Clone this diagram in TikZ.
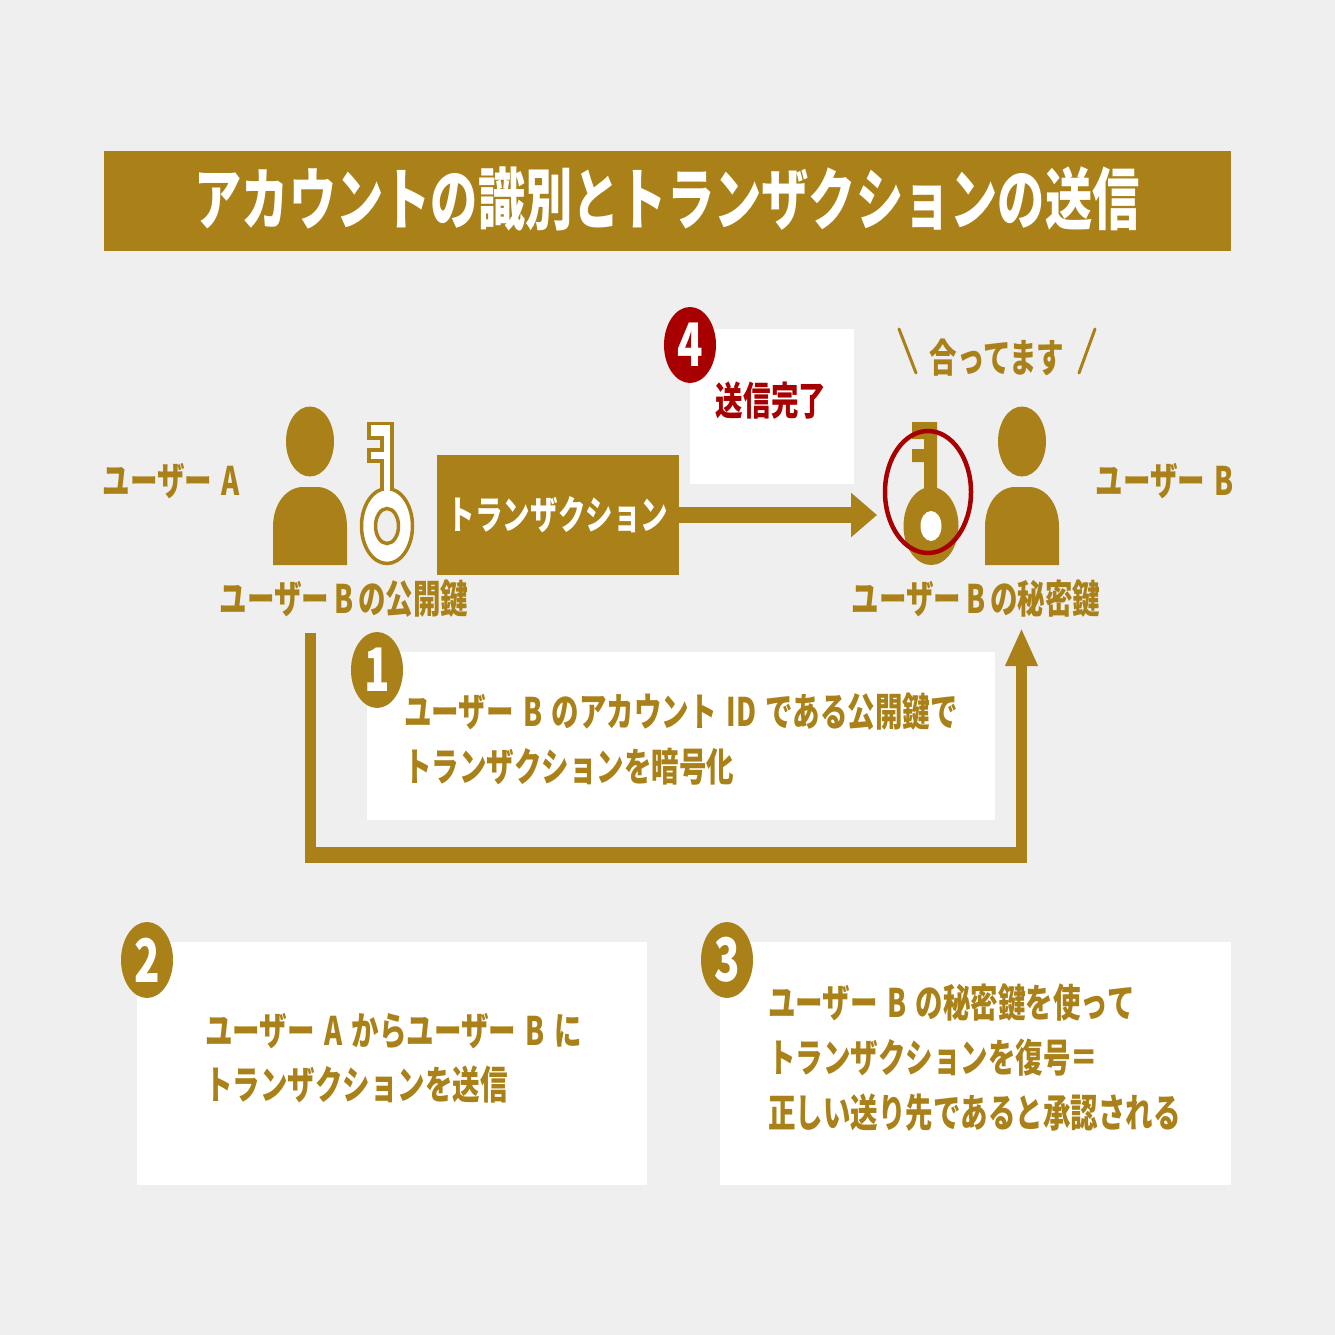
\documentclass[tikz,border=0pt]{standalone}
\usepackage{fontspec}
\setmainfont{Noto Sans CJK JP}[FakeStretch=0.7]
\usetikzlibrary{arrows.meta,shapes.geometric}
\definecolor{gold}{HTML}{A98118}
\definecolor{bgcol}{HTML}{EFEFEF}
\definecolor{redcol}{HTML}{A80000}
\newcommand{\gap}{\hspace{5pt}}
\newcommand{\wgap}{\hspace{9.5pt}}
\tikzset{
 txt/.style={text=gold,inner sep=0pt,font=\fontsize{39.3}{39.3}\selectfont\bfseries},
 line/.style={txt,anchor=west},
 box/.style={fill=white,draw=none},
 num/.style={ellipse,fill=gold,minimum width=52pt,minimum height=76pt,inner sep=0pt,text=white,font=\fontsize{60}{60}\selectfont\bfseries},
 loopline/.style={draw=gold},
}
\begin{document}
\begin{tikzpicture}[x=1pt,y=-1pt]
 \fill[bgcol](0,0) rectangle (1335,1335);
 \useasboundingbox (0,0) rectangle (1335,1335);
 % title
 \fill[gold](104,151) rectangle (1231,251);
 \node (title) at (667,199) [inner sep=0pt,text=white,font=\fontsize{67.5}{67.5}\selectfont\bfseries] {アカウントの識別とトランザクションの送信};
 % white boxes
 \fill[box](690,329) rectangle (854,484);
 \fill[box](367,652) rectangle (995,820);
 \fill[box](137,942) rectangle (647,1185);
 \fill[box](720,942) rectangle (1231,1185);
 % people
 \foreach \x in {310,1022}{
  \fill[gold](\x,441.5) ellipse (24 and 35);
  \fill[gold](\x-37,565)--(\x-37,527).. controls (\x-37,503) and (\x-23,487) .. (\x-7,487)--(\x+7,487).. controls (\x+23,487) and (\x+37,503) .. (\x+37,527)--(\x+37,565)--cycle;
 }
 % key A
 \draw[gold,fill=white,line width=3.5pt](369,423.5)--(392,423.5)--(392,490)--(382,490)--(382,461)--(369,461)--(369,450)--(382,450)--(382,438)--(369,438)--cycle;
 \draw[gold,fill=white,line width=3.5pt](387,526) ellipse (25.5 and 37.5);
 \fill[white](383.8,485) rectangle (390.2,495);
 \draw[gold,fill=bgcol,line width=3.5pt](387,526) ellipse (11.5 and 17.5);
 % key B
 \fill[gold](912,422)--(937,422)--(937,495)--(924,495)--(924,462)--(912,462)--(912,449)--(924,449)--(924,439)--(912,439)--cycle;
 \fill[gold](931,526) ellipse (27.5 and 39);
 \fill[white](931,526) ellipse (10.5 and 15);
 \draw[redcol,line width=4.5pt](928,492) ellipse (43 and 61);
 % labels
 \node (userA) at (171.5,481) [txt] {ユーザー\wgap A};
 \node (userB) at (1165,481) [txt] {ユーザー\wgap B};
 \node (pubkey) at (344,599) [txt] {ユーザー\gap B\gap の公開鍵};
 \node (seckey) at (976,599) [txt] {ユーザー\gap B\gap の秘密鍵};
 \node (match) at (997,358) [txt] {合ってます};
 \draw[gold,line width=3pt,line cap=round](899,329)--(916,373);
 \draw[gold,line width=3pt,line cap=round](1095,329)--(1079,373);
 % transaction
 \node (tx) at (558,515) [fill=gold,minimum width=242pt,minimum height=120pt,inner sep=0pt,text=white,font=\fontsize{39.3}{39.3}\selectfont\bfseries] {トランザクション};
 \coordinate (keyin) at (877,515);
 \draw[-{Triangle[length=26pt,width=43pt]},line width=16pt,gold](tx.east)--(keyin);
 \node (done) at (771,401) [txt,text=redcol] {送信完了};
 % loop connector
 \coordinate (loopa) at (310.5,633);
 \coordinate (loopb) at (310.5,855);
 \coordinate (loopc) at (1021.5,855);
 \coordinate (loopend) at (1021.5,628);
 \draw[loopline,line width=11pt,shorten >=-8pt](loopa)--(loopb);
 \draw[loopline,line width=16pt,shorten <=-5.5pt,shorten >=-5.5pt](loopb)--(loopc);
 \draw[loopline,line width=11pt,-{Triangle[length=38pt,width=30pt]}](loopc)--(loopend);
 % step numbers
 \node (numa) at (377,670) [num] {1};
 \node (numb) at (147,960) [num] {2};
 \node (numc) at (727,960) [num] {3};
 \node (numd) at (690,345) [num,fill=redcol] {4};
 % step texts
 \node (oneA) at (404,712) [line] {ユーザー\wgap B\wgap のアカウント\wgap ID\wgap である公開鍵で};
 \node (oneB) at (404,767) [line] {トランザクションを暗号化};
 \node (twoA) at (205,1031) [line] {ユーザー\wgap A\wgap からユーザー\wgap B\wgap に};
 \node (twoB) at (205,1085) [line] {トランザクションを送信};
 \node (threeA) at (768,1003) [line] {ユーザー\wgap B\wgap の秘密鍵を使って};
 \node (threeB) at (768,1058) [line] {トランザクションを復号＝};
 \node (threeC) at (768,1113) [line] {正しい送り先であると承認される};
\end{tikzpicture}
\end{document}
